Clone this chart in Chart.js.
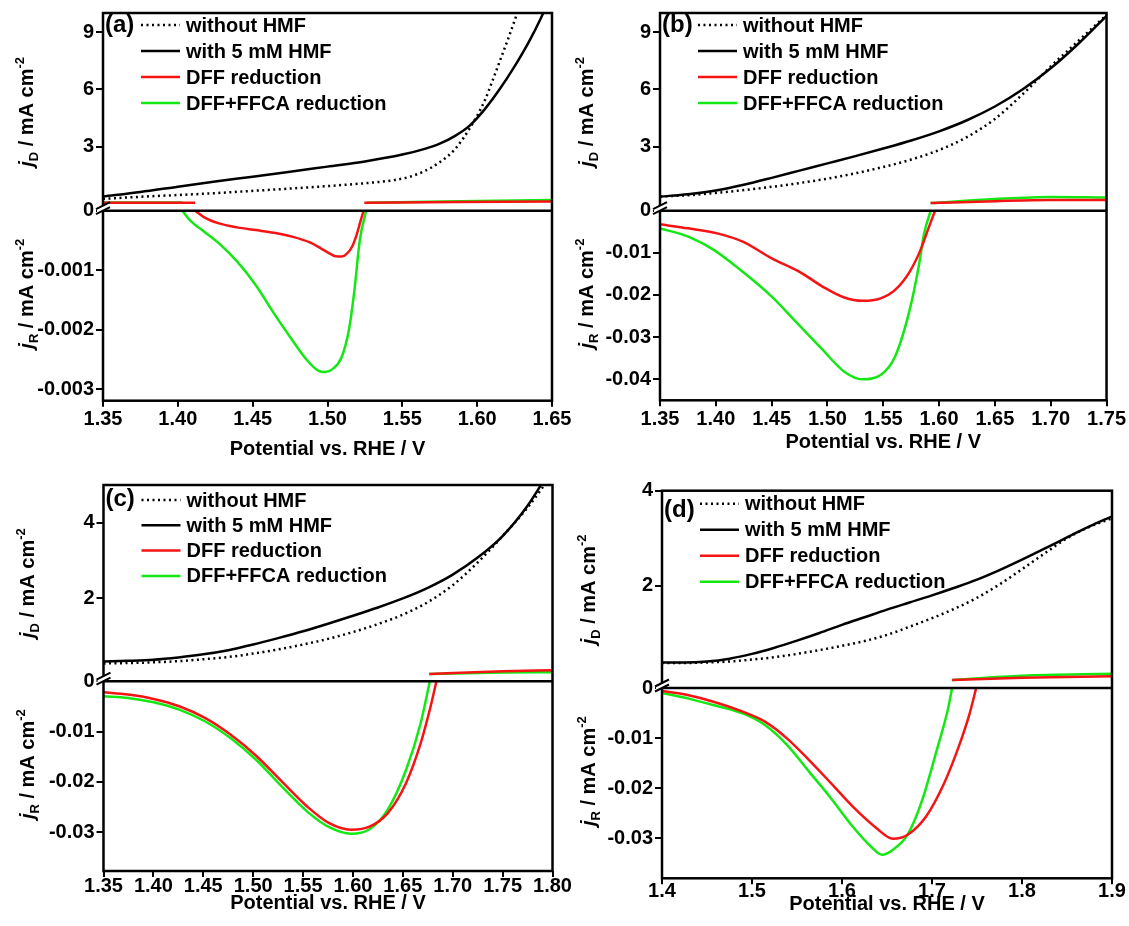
<!DOCTYPE html>
<html>
<head>
<meta charset="utf-8">
<script src="https://cdn.jsdelivr.net/npm/chart.js@4.4.1/dist/chart.umd.min.js"></script>
<style>
  html, body { margin: 0; padding: 0; background: #fff; }
  #wrap { position: relative; width: 1129px; height: 926px; }
  #wrap canvas { position: absolute; left: 0; top: 0; }
</style>
</head>
<body>
<div id="wrap">
  <canvas id="pa" width="1129" height="926"></canvas>
  <canvas id="pb" width="1129" height="926"></canvas>
  <canvas id="pc" width="1129" height="926"></canvas>
  <canvas id="pd" width="1129" height="926"></canvas>
</div>
<script>
const seriesNames = ['without HMF', 'with 5 mM HMF', 'DFF reduction', 'DFF+FFCA reduction'];

// ---- (a) ----
const aWithoutV = [1.35, 1.375, 1.40, 1.425, 1.45, 1.475, 1.50, 1.525, 1.545, 1.555, 1.565, 1.575, 1.585, 1.595, 1.605, 1.61, 1.615, 1.62, 1.625, 1.63];
const aWithoutJ = [0.26, 0.37, 0.46, 0.56, 0.68, 0.8, 0.93, 1.08, 1.25, 1.42, 1.72, 2.18, 2.85, 3.95, 5.4, 6.4, 7.45, 8.5, 9.6, 10.7];
const aWithV = [1.35, 1.375, 1.40, 1.425, 1.45, 1.475, 1.50, 1.525, 1.55, 1.565, 1.575, 1.585, 1.595, 1.605, 1.615, 1.625, 1.635, 1.6427, 1.648];
const aWithJ = [0.38, 0.62, 0.9, 1.17, 1.42, 1.68, 1.95, 2.22, 2.58, 2.88, 3.15, 3.55, 4.1, 4.95, 6.0, 7.2, 8.55, 9.75, 10.7];
const aDffTopV = [1.35, 1.4116, 1.47, 1.5246, 1.65];
const aDffTopJ = [0.06, 0.06, null, 0.06, 0.12];
const aMixTopV = [1.35, 1.403, 1.47, 1.5265, 1.65];
const aMixTopJ = [0.07, 0.07, null, 0.06, 0.2];
const aDffV = [1.4116, 1.4177, 1.4275, 1.4397, 1.452, 1.4642, 1.4764, 1.4886, 1.496, 1.5015, 1.5055, 1.5095, 1.513, 1.5165, 1.5195, 1.522, 1.5241];
const aDffJ = [0, -0.000112, -0.000213, -0.00028, -0.000325, -0.00037, -0.000436, -0.000537, -0.00064, -0.00072, -0.000765, -0.00077, -0.00072, -0.0006, -0.0004, -0.00018, 0];
const aMixV = [1.403, 1.408, 1.4177, 1.4275, 1.4397, 1.452, 1.4642, 1.4764, 1.4862, 1.4935, 1.4984, 1.5033, 1.5094, 1.5143, 1.518, 1.5216, 1.5258];
const aMixJ = [0, -0.000157, -0.000353, -0.000548, -0.000856, -0.001248, -0.001724, -0.002171, -0.002507, -0.00268, -0.00271, -0.00266, -0.00246, -0.002003, -0.001332, -0.000492, 0];

// ---- (b) ----
const bBlackV = [1.35, 1.375, 1.40, 1.425, 1.45, 1.475, 1.50, 1.525, 1.55, 1.575, 1.60, 1.625, 1.65, 1.675, 1.70, 1.725, 1.75];
const bWithoutJ = [0.38, 0.45, 0.57, 0.72, 0.89, 1.09, 1.32, 1.6, 1.93, 2.32, 2.82, 3.5, 4.45, 5.75, 7.2, 8.55, 9.9];
const bWithJ = [0.38, 0.5, 0.7, 1.0, 1.36, 1.74, 2.12, 2.5, 2.9, 3.32, 3.8, 4.38, 5.1, 6.0, 7.1, 8.4, 9.85];
const bTopV = [1.5924, 1.65, 1.7, 1.75];
const bDffTopJ = [0.04, 0.14, 0.2, 0.2];
const bMixTopJ = [0.04, 0.25, 0.36, 0.33];
const bDffV = [1.35, 1.3753, 1.4013, 1.4241, 1.4501, 1.4761, 1.4956, 1.5151, 1.5314, 1.5476, 1.5606, 1.5736, 1.5834, 1.5899, 1.5964];
const bDffJ = [-0.00324, -0.00419, -0.00538, -0.00735, -0.0113, -0.0147, -0.018, -0.0206, -0.0214, -0.0208, -0.0188, -0.0145, -0.0093, -0.0046, 0];
const bMixV = [1.35, 1.3753, 1.3981, 1.4241, 1.4501, 1.4729, 1.4956, 1.5151, 1.5314, 1.5476, 1.5606, 1.5736, 1.5817, 1.5866, 1.5925];
const bMixJ = [-0.00419, -0.00617, -0.0093, -0.0145, -0.0204, -0.0267, -0.033, -0.0382, -0.04, -0.039, -0.0346, -0.0236, -0.0133, -0.0054, 0];

// ---- (c) ----
const cBlackV = [1.35, 1.375, 1.40, 1.425, 1.45, 1.475, 1.50, 1.525, 1.55, 1.575, 1.60, 1.625, 1.65, 1.675, 1.70, 1.725, 1.75, 1.775, 1.80];
const cWithoutJ = [0.28, 0.29, 0.31, 0.34, 0.39, 0.45, 0.54, 0.65, 0.78, 0.93, 1.11, 1.32, 1.57, 1.9, 2.35, 2.95, 3.65, 4.4, 5.3];
const cWithJ = [0.33, 0.35, 0.38, 0.44, 0.52, 0.63, 0.78, 0.95, 1.13, 1.33, 1.54, 1.76, 2.0, 2.28, 2.63, 3.08, 3.65, 4.45, 5.5];
const cTopV = [1.6765, 1.75, 1.8];
const cDffTopJ = [0.0, 0.07, 0.1];
const cMixTopJ = [0.0, 0.04, 0.05];
const cRingV = [1.35, 1.3746, 1.4002, 1.4259, 1.4516, 1.4772, 1.5029, 1.5286, 1.5542, 1.5762, 1.5982, 1.6166, 1.6349, 1.6533, 1.6679, 1.6771, 1.6837];
const cDffJ = [-0.00219, -0.00265, -0.00352, -0.00498, -0.0073, -0.0106, -0.0148, -0.0199, -0.0249, -0.0282, -0.0295, -0.0289, -0.0262, -0.0202, -0.0123, -0.0056, 0];
const cMixJ = [-0.00299, -0.00332, -0.00418, -0.00564, -0.00796, -0.0113, -0.0156, -0.0209, -0.0259, -0.029, -0.0303, -0.0294, -0.0255, -0.0176, -0.0083, 0];

// ---- (d) ----
const dBlackV = [1.4, 1.425, 1.45, 1.475, 1.50, 1.525, 1.55, 1.575, 1.60, 1.625, 1.65, 1.675, 1.70, 1.725, 1.75, 1.775, 1.80, 1.825, 1.85, 1.875, 1.90];
const dWithoutJ = [0.38, 0.38, 0.39, 0.41, 0.45, 0.5, 0.57, 0.65, 0.74, 0.84, 0.97, 1.14, 1.32, 1.52, 1.75, 2.03, 2.35, 2.68, 3.0, 3.24, 3.42];
const dWithJ = [0.39, 0.39, 0.41, 0.47, 0.57, 0.7, 0.85, 1.01, 1.18, 1.34, 1.5, 1.65, 1.8, 1.96, 2.13, 2.33, 2.55, 2.78, 3.02, 3.25, 3.46];
const dTopV = [1.7224, 1.8, 1.9];
const dDffTopJ = [0.02, 0.07, 0.1];
const dMixTopJ = [0.02, 0.11, 0.15];
const dDffV = [1.4, 1.4296, 1.458, 1.4904, 1.5148, 1.5391, 1.5634, 1.5877, 1.6121, 1.6364, 1.6567, 1.6729, 1.6932, 1.7135, 1.7297, 1.7418, 1.7491];
const dDffJ = [-0.0006, -0.00146, -0.00279, -0.00478, -0.00677, -0.0101, -0.0144, -0.019, -0.0237, -0.0277, -0.0301, -0.0293, -0.0257, -0.019, -0.0117, -0.0051, 0];
const dMixV = [1.4, 1.4296, 1.458, 1.4904, 1.5148, 1.5391, 1.5634, 1.5877, 1.6121, 1.6324, 1.6445, 1.6567, 1.6729, 1.6891, 1.7053, 1.7175, 1.7224];
const dMixJ = [-0.001, -0.00212, -0.00345, -0.00511, -0.00743, -0.0114, -0.0167, -0.022, -0.0277, -0.0317, -0.0333, -0.0323, -0.0293, -0.0224, -0.0124, -0.0044, 0];

// tick labels
const xTicksA = [1.35, 1.40, 1.45, 1.50, 1.55, 1.60, 1.65];
const xTicksB = [1.35, 1.40, 1.45, 1.50, 1.55, 1.60, 1.65, 1.70, 1.75];
const xTicksC = [1.35, 1.40, 1.45, 1.50, 1.55, 1.60, 1.65, 1.70, 1.75, 1.80];
const xTicksD = [1.4, 1.5, 1.6, 1.7, 1.8, 1.9];
const topTicksA = [3, 6, 9];
const topTicksB = [3, 6, 9];
const topTicksC = [2, 4];
const topTicksD = [2, 4];
const botTicksA = [0, -0.001, -0.002, -0.003];
const botTicksB = [0, -0.01, -0.02, -0.03, -0.04];
const botTicksC = [0, -0.01, -0.02, -0.03];
const botTicksD = [0, -0.01, -0.02, -0.03];

const FONT = '"Liberation Sans", Arial, sans-serif';
Chart.defaults.font.family = FONT;
Chart.defaults.font.weight = 'bold';
Chart.defaults.color = '#000';

const RED = 'rgb(245,20,20)';
const GREEN = 'rgb(20,232,20)';

function pts(v, j) { return v.map((x, i) => ({ x: x, y: j[i] })); }

function line(label, data, axis, color, dash) {
  return {
    label: label, data: data, yAxisID: axis,
    borderColor: color, borderWidth: 2.5, borderDash: dash || [],
    pointRadius: 0, fill: false, cubicInterpolationMode: 'monotone', spanGaps: false
  };
}

// frame, zero line and the axis break marks
const frame = {
  id: 'frame',
  afterDatasetsDraw(chart) {
    const { ctx, chartArea: a } = chart;
    const yb = chart.scales.yTop.bottom;
    ctx.save();
    ctx.strokeStyle = '#000';
    ctx.lineWidth = 2.5;
    ctx.strokeRect(a.left, a.top, a.right - a.left, a.bottom - a.top);
    ctx.beginPath();
    ctx.moveTo(a.left, yb);
    ctx.lineTo(a.right, yb);
    ctx.stroke();
    const L = a.left;
    ctx.fillStyle = '#fff';
    ctx.beginPath();
    ctx.moveTo(L - 6, yb - 2);
    ctx.lineTo(L + 6, yb - 8);
    ctx.lineTo(L + 6, yb - 3);
    ctx.lineTo(L - 6, yb + 3);
    ctx.closePath();
    ctx.fill();
    ctx.lineWidth = 2;
    ctx.beginPath();
    ctx.moveTo(L - 7, yb - 1.5); ctx.lineTo(L + 7, yb - 8.5);
    ctx.moveTo(L - 7, yb + 3.5); ctx.lineTo(L + 7, yb - 3.5);
    ctx.stroke();
    ctx.restore();
  }
};

// panel tag and key inside the plot area
const key = {
  id: 'key',
  afterDraw(chart, args, o) {
    const { ctx, chartArea: a } = chart;
    ctx.save();
    ctx.fillStyle = '#000';
    ctx.textBaseline = 'middle';
    ctx.font = 'bold 24px ' + FONT;
    ctx.fillText(o.tag, a.left + 2, a.top + o.tagY);
    ctx.font = 'bold 20px ' + FONT;
    const seen = [];
    chart.data.datasets.forEach(ds => {
      if (seen.indexOf(ds.label) >= 0) return;
      const y = a.top + o.rowY + seen.length * o.rowGap;
      seen.push(ds.label);
      ctx.strokeStyle = ds.borderColor;
      ctx.lineWidth = ds.borderWidth;
      ctx.setLineDash(ds.borderDash);
      ctx.beginPath();
      ctx.moveTo(a.left + 38, y);
      ctx.lineTo(a.left + 77, y);
      ctx.stroke();
      ctx.setLineDash([]);
      ctx.fillText(ds.label, a.left + 83, y + 1);
    });
    ctx.restore();
  }
};

function drawJ(ctx, cx, cy, sub) {
  const parts = [
    ['j', 'italic bold 20px ' + FONT, 0],
    [sub, 'bold 13px ' + FONT, 5],
    [' / mA cm', 'bold 20px ' + FONT, 0],
    ['-2', 'bold 13px ' + FONT, -9]
  ];
  ctx.save();
  let w = 0;
  parts.forEach(p => { ctx.font = p[1]; p.push(ctx.measureText(p[0]).width); w += p[3]; });
  ctx.translate(cx, cy);
  ctx.rotate(-Math.PI / 2);
  ctx.fillStyle = '#000';
  ctx.textBaseline = 'alphabetic';
  let x = -w / 2;
  parts.forEach(p => { ctx.font = p[1]; ctx.fillText(p[0], x, 7 + p[2]); x += p[3]; });
  ctx.restore();
}

const yTitles = {
  id: 'yTitles',
  afterDraw(chart, args, o) {
    const { ctx, chartArea: a, scales } = chart;
    const t = scales.yTop, b = scales.yBot;
    drawJ(ctx, a.left + o.dx, (t.top + t.bottom) / 2, 'D');
    drawJ(ctx, a.left + o.dx, (b.top + b.bottom) / 2 - 12, 'R');
  }
};

function setTicks(list) {
  return scale => { scale.ticks = list.map(v => ({ value: v })); };
}

function makePanel(p) {
  const [left, top, right, split, bottom] = p.area;
  const yWidth = 80;
  const tickFont = { size: 20, weight: 'bold', lineHeight: 1 };
  const tickGrid = { display: true, drawOnChartArea: false, drawTicks: true, tickLength: 7, color: '#000', lineWidth: 2 };
  new Chart(document.getElementById(p.canvas), {
    type: 'line',
    data: { datasets: p.datasets },
    options: {
      responsive: false,
      animation: false,
      devicePixelRatio: 1,
      layout: { padding: { left: left - yWidth, top: top, right: 1129 - right, bottom: 926 - bottom - p.xHeight } },
      plugins: {
        legend: { display: false },
        tooltip: { enabled: false },
        key: { tag: p.tag, tagY: p.tagY, rowY: p.rowY, rowGap: p.rowGap },
        yTitles: { dx: p.titleDx }
      },
      scales: {
        x: {
          type: 'linear', position: 'bottom', min: p.xRange[0], max: p.xRange[1],
          afterBuildTicks: setTicks(p.xTicks),
          afterFit: s => { s.height = p.xHeight; },
          ticks: { font: tickFont, padding: p.xPad, autoSkip: false, maxRotation: 0,
                   callback: v => v.toFixed(p.xDigits) },
          grid: Object.assign({}, tickGrid, { tickLength: 6 }),
          border: { display: false },
          title: { display: true, text: 'Potential vs. RHE / V', padding: 0,
                   font: { size: 20, weight: 'bold', lineHeight: 1 } }
        },
        yBot: {
          type: 'linear', position: 'left', stack: 'j', stackWeight: bottom - split,
          min: p.botRange[0], max: p.botRange[1],
          afterBuildTicks: setTicks(p.botTicks),
          afterFit: s => { s.width = yWidth; },
          ticks: { font: tickFont, padding: 2,
                   callback: v => (v === 0 ? '0' : v.toFixed(p.botDigits)) },
          grid: tickGrid,
          border: { display: false }
        },
        yTop: {
          type: 'linear', position: 'left', stack: 'j', stackWeight: split - top,
          min: p.topRange[0], max: p.topRange[1],
          afterBuildTicks: setTicks(p.topTicks),
          afterFit: s => { s.width = yWidth; },
          ticks: { font: tickFont, padding: 2, callback: v => String(v) },
          grid: tickGrid,
          border: { display: false }
        }
      }
    },
    plugins: [frame, key, yTitles]
  });
}

function sets(withoutD, withD, dffTop, dffBot, mixTop, mixBot) {
  return [
    line(seriesNames[0], withoutD, 'yTop', '#000', [2, 3.5]),
    line(seriesNames[1], withD, 'yTop', '#000'),
    line(seriesNames[3], mixTop, 'yTop', GREEN),
    line(seriesNames[2], dffTop, 'yTop', RED),
    line(seriesNames[3], mixBot, 'yBot', GREEN),
    line(seriesNames[2], dffBot, 'yBot', RED)
  ].sort((u, v) => seriesNames.indexOf(u.label) - seriesNames.indexOf(v.label));
}

makePanel({
  canvas: 'pa', tag: '(a)', area: [103, 13, 552, 210.7, 400.7],
  xRange: [1.35, 1.65], xTicks: xTicksA, xDigits: 2, xHeight: 59, xPad: 3,
  topRange: [-0.36, 10], topTicks: topTicksA,
  botRange: [-0.00319, 0], botTicks: botTicksA, botDigits: 3,
  tagY: 12, rowY: 12, rowGap: 26, titleDx: -77,
  datasets: sets(pts(aWithoutV, aWithoutJ), pts(aWithV, aWithJ),
                 pts(aDffTopV, aDffTopJ), pts(aDffV, aDffJ),
                 pts(aMixTopV, aMixTopJ), pts(aMixV, aMixJ))
});

makePanel({
  canvas: 'pb', tag: '(b)', area: [660, 13, 1110, 210.7, 400.3],
  xRange: [1.35, 1.75], xTicks: xTicksB, xDigits: 2, xHeight: 52, xPad: 3,
  topRange: [-0.36, 10], topTicks: topTicksB,
  botRange: [-0.045, 0], botTicks: botTicksB, botDigits: 2,
  tagY: 12, rowY: 12, rowGap: 26, titleDx: -74,
  datasets: sets(pts(bBlackV, bWithoutJ), pts(bBlackV, bWithJ),
                 pts(bTopV, bDffTopJ), pts(bDffV, bDffJ),
                 pts(bTopV, bMixTopJ), pts(bMixV, bMixJ))
});

makePanel({
  canvas: 'pc', tag: '(c)', area: [103.5, 485, 552.5, 681.2, 871],
  xRange: [1.35, 1.80], xTicks: xTicksC, xDigits: 2, xHeight: 42, xPad: -1,
  topRange: [-0.19, 5], topTicks: topTicksC,
  botRange: [-0.0377, 0], botTicks: botTicksC, botDigits: 2,
  tagY: 14, rowY: 15, rowGap: 25.3, titleDx: -77,
  datasets: sets(pts(cBlackV, cWithoutJ), pts(cBlackV, cWithJ),
                 pts(cTopV, cDffTopJ), pts(cRingV, cDffJ),
                 pts(cTopV, cMixTopJ), pts(cRingV.slice(0, 16), cMixJ))
});

makePanel({
  canvas: 'pd', tag: '(d)', area: [662, 490.7, 1112, 688, 878.3],
  xRange: [1.4, 1.9], xTicks: xTicksD, xDigits: 1, xHeight: 36, xPad: -2.5,
  topRange: [-0.147, 4], topTicks: topTicksD,
  botRange: [-0.038, 0], botTicks: botTicksD, botDigits: 2,
  tagY: 20, rowY: 13, rowGap: 26, titleDx: -74,
  datasets: sets(pts(dBlackV, dWithoutJ), pts(dBlackV, dWithJ),
                 pts(dTopV, dDffTopJ), pts(dDffV, dDffJ),
                 pts(dTopV, dMixTopJ), pts(dMixV, dMixJ))
});
</script>
</body>
</html>
